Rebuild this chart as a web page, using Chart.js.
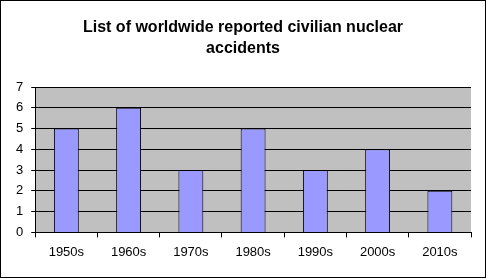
<html>
<head>
    <meta charset="UTF-8">
    <title>Civilian nuclear accidents</title>
    <style>
        body { margin: 0; background: #fff; }
        .frame { width: 486px; height: 278px; box-sizing: border-box; border: 1px solid #000; }
    </style>
</head>
<body>
    <div class="frame">
        <canvas id="accidentChart" width="484" height="276"></canvas>
    </div>
    <script src="https://cdn.jsdelivr.net/npm/chart.js"></script>
    <script>
        const decades = ['1950s', '1960s', '1970s', '1980s', '1990s', '2000s', '2010s'];
        const accidents = [5, 6, 3, 5, 3, 4, 2];
        const yTicks = [0, 1, 2, 3, 4, 5, 6, 7];

        // gray plot area like the old spreadsheet chart
        const plotBackground = {
            id: 'plotBackground',
            beforeDraw(chart) {
                const a = chart.chartArea;
                const ctx = chart.ctx;
                ctx.save();
                ctx.fillStyle = '#c0c0c0';
                ctx.fillRect(a.left, a.top, a.right - a.left, a.bottom - a.top);
                ctx.restore();
            }
        };

        const font = { family: 'Liberation Sans, Arial, sans-serif', size: 13 };

        new Chart(document.getElementById('accidentChart'), {
            type: 'bar',
            data: {
                labels: decades,
                datasets: [{
                    data: accidents,
                    backgroundColor: '#9999ff',
                    borderColor: '#000',
                    borderWidth: 1,
                    categoryPercentage: 1,
                    barPercentage: 0.4
                }]
            },
            options: {
                responsive: false,
                animation: false,
                layout: { padding: { left: 14, right: 14, bottom: 10, top: 0 } },
                plugins: {
                    legend: { display: false },
                    tooltip: { enabled: false },
                    title: {
                        display: true,
                        text: ['List of worldwide reported civilian nuclear', 'accidents'],
                        color: '#000',
                        font: { family: 'Liberation Sans, Arial, sans-serif', size: 16, weight: 'bold', lineHeight: '21px' },
                        padding: { top: 16, bottom: 28 }
                    }
                },
                scales: {
                    x: {
                        grid: { offset: true, drawOnChartArea: false, color: '#000', tickLength: 5 },
                        border: { display: true, color: '#000' },
                        ticks: { color: '#000', font: font, padding: 7, maxRotation: 0 }
                    },
                    y: {
                        min: 0,
                        max: 7,
                        afterBuildTicks(axis) { axis.ticks = yTicks.map(v => ({ value: v })); },
                        afterFit(axis) { axis.width -= 7; }, // keep title centred on the whole frame
                        grid: { color: '#000', tickLength: 4 },
                        border: { display: true, color: '#000' },
                        ticks: { color: '#000', font: font, padding: 8 }
                    }
                }
            },
            plugins: [plotBackground]
        });
    </script>
</body>
</html>
